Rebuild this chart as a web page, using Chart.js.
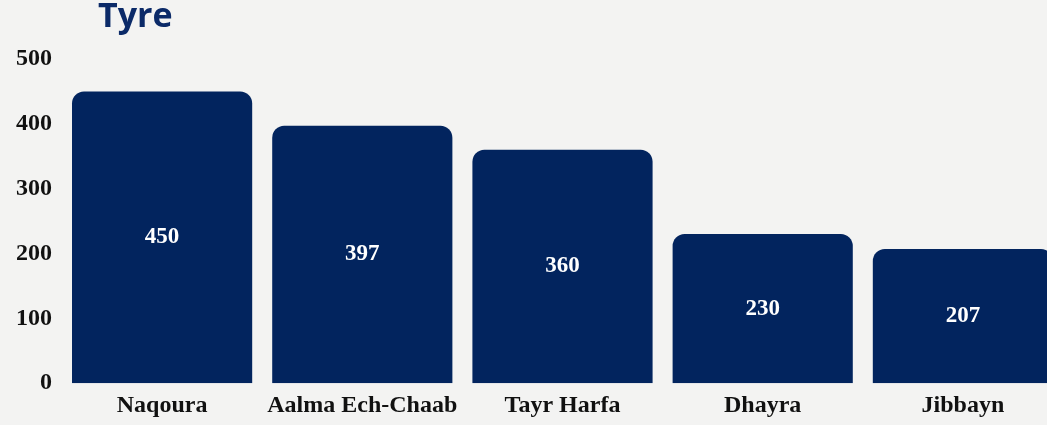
<!DOCTYPE html>
<html lang="en">
  <head>
    <meta charset="UTF-8" />
    <script src="https://cdn.jsdelivr.net/npm/chart.js"></script>
    <title>Tyre</title>
    <style>
      html, body { margin: 0; padding: 0; background: #f3f3f2; overflow: hidden; }
      .wrap { position: relative; width: 1065px; height: 425px; }
      .titulo {
        position: absolute; left: 98px; top: -9px; margin: 0;
        font-family: "Open Sans", sans-serif; font-weight: 700; font-size: 34px;
        color: #0b2a68;
      }
    </style>
  </head>
  <body>
    <div class="wrap">
      <h1 class="titulo">Tyre</h1>
      <canvas id="grafico"></canvas>
    </div>
<script>
  const categorias = ["Naqoura", "Aalma Ech-Chaab", "Tayr Harfa", "Dhayra", "Jibbayn"];
  const valores = [450, 397, 360, 230, 207];
  const ticksY = [0, 100, 200, 300, 400, 500];

  const fonte = { family: "'Liberation Serif', 'Times New Roman', serif", weight: "bold", size: 24 };

  // escreve o valor no meio de cada barra
  const rotulos = {
    id: "rotulos",
    afterDatasetsDraw(chart) {
      const ctx = chart.ctx;
      ctx.save();
      ctx.fillStyle = "#ffffff";
      ctx.font = "bold 23px 'Liberation Serif', serif";
      ctx.textAlign = "center";
      ctx.textBaseline = "middle";
      chart.getDatasetMeta(0).data.forEach((bar, i) => {
        ctx.fillText(valores[i], bar.x, (bar.y + bar.base) / 2);
      });
      ctx.restore();
    },
  };

  new Chart(document.getElementById("grafico"), {
    type: "bar",
    data: {
      labels: categorias,
      datasets: [
        {
          data: valores,
          backgroundColor: "#02245e",
          borderRadius: 12,
          borderSkipped: "start",
          barPercentage: 0.9,
          categoryPercentage: 1.0,
        },
      ],
    },
    options: {
      responsive: true,
      maintainAspectRatio: false,
      animation: false,
      layout: { padding: { top: 59, left: 14, right: 2, bottom: 5 } },
      plugins: { legend: { display: false }, tooltip: { enabled: false } },
      scales: {
        x: {
          grid: { display: false },
          border: { display: false },
          ticks: { color: "#111", font: fonte, padding: 0 },
        },
        y: {
          min: 0,
          max: 500,
          afterBuildTicks(axis) { axis.ticks = ticksY.map((v) => ({ value: v })); },
          grid: { display: false },
          border: { display: false },
          ticks: { color: "#111", font: fonte, padding: 2 },
        },
      },
    },
    plugins: [rotulos],
  });
</script>
  </body>
</html>
